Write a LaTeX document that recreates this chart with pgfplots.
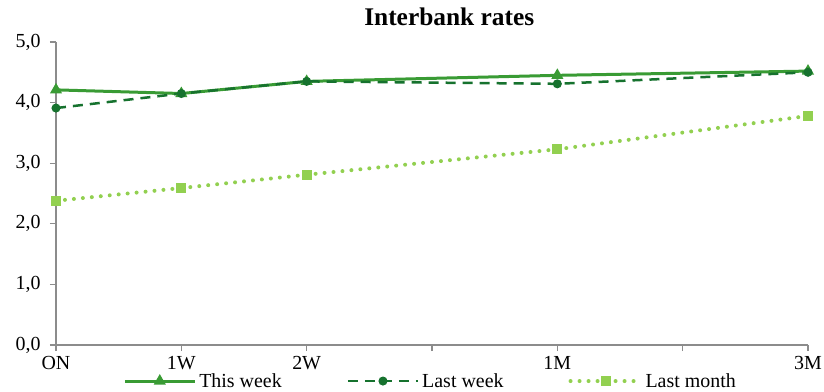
\documentclass[border=0pt]{standalone}
\usepackage{pgfplots}
\pgfplotsset{compat=1.18}
\usepackage{fontspec}
\setmainfont{Liberation Serif}
\definecolor{thisweek}{RGB}{57,155,52}
\definecolor{lastweek}{RGB}{22,114,46}
\definecolor{lastmonth}{RGB}{146,208,80}
\begin{document}
\begin{tikzpicture}
\path[use as bounding box] (-56bp,-47bp) rectangle (768bp,345bp);
\begin{axis}[
  at={(0,0)}, anchor=south west,
  scale only axis, width=752bp, height=303bp,
  xmin=0, xmax=6, ymin=0, ymax=5,
  axis lines*=left,
  axis line style={draw=gray!90, line width=1.2bp},
  every tick/.style={draw=gray!90, line width=1.2bp},
  tick align=outside, major tick length=6bp,
  xtick={0,1,2,3,4,5,6},
  xticklabels={ON,1W,2W,,1M,,3M},
  ytick={0,1,2,3,4,5},
  /pgf/number format/fixed, /pgf/number format/fixed zerofill,
  /pgf/number format/precision=1, /pgf/number format/use comma,
  /pgf/number format/assume math mode=true,
  ticklabel style={font=\fontsize{20}{24}\selectfont},
  xticklabel style={yshift=-2bp},
  yticklabel style={xshift=-6bp},
  title={\textbf{Interbank rates}},
  title style={at={(0.523,1)}, anchor=base, yshift=11bp, font=\fontsize{25.5}{30}\selectfont},
  legend columns=3,
  legend style={at={(0.4987,-0.119)}, anchor=center, draw=none, fill=none,
    font=\fontsize{20}{24}\selectfont, /tikz/every even column/.append style={column sep=62bp},
    nodes={inner sep=3bp}},
  legend image code/.code={\draw[mark repeat=2,mark phase=2] plot coordinates {(0bp,0bp)(35bp,0bp)(70bp,0bp)};},
]
\addplot[color=thisweek, line width=3bp, mark=triangle*, mark size=4bp, mark options={solid}]
  coordinates {(0,4.21) (1,4.15) (2,4.35) (4,4.45) (6,4.52)};
\addlegendentry{This week}
\addplot[color=lastweek, line width=2.5bp, dash pattern=on 10bp off 7bp, mark=*, mark size=3.2bp, mark options={solid}]
  coordinates {(0,3.91) (1,4.15) (2,4.35) (4,4.31) (6,4.50)};
\addlegendentry{Last week}
\addplot[color=lastmonth, line width=4bp, line cap=round, dash pattern=on 0bp off 9bp, mark=square*, mark size=3bp, mark options={solid}]
  coordinates {(0,2.38) (1,2.59) (2,2.81) (4,3.23) (6,3.78)};
\addlegendentry{Last month}
\end{axis}
\end{tikzpicture}
\end{document}
